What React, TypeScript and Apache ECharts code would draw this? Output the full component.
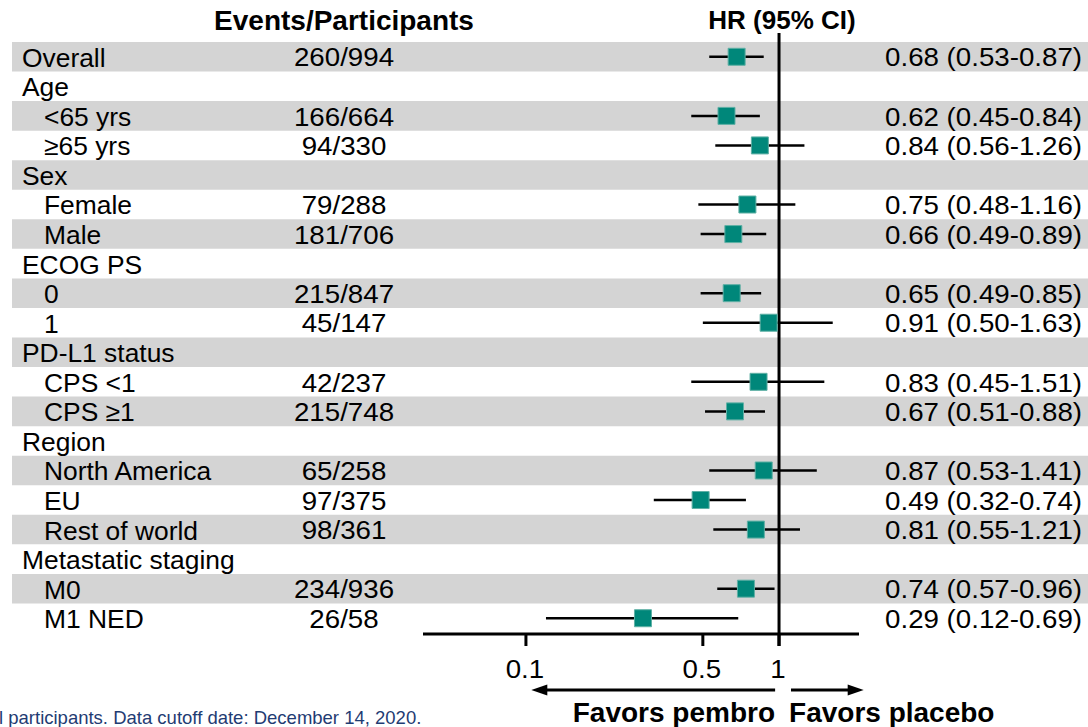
import React, { useEffect, useRef } from "react";
import * as echarts from "echarts";

const labels = [
  "Overall", "Age", "<65 yrs", "≥65 yrs", "Sex", "Female", "Male", "ECOG PS", "0", "1",
  "PD-L1 status", "CPS <1", "CPS ≥1", "Region", "North America", "EU", "Rest of world",
  "Metastatic staging", "M0", "M1 NED",
];
const levels = [0, 0, 1, 1, 0, 1, 1, 0, 1, 1, 0, 1, 1, 0, 1, 1, 1, 0, 1, 1];
const events = [
  "260/994", "", "166/664", "94/330", "", "79/288", "181/706", "", "215/847", "45/147",
  "", "42/237", "215/748", "", "65/258", "97/375", "98/361", "", "234/936", "26/58",
];
const hr: (number | null)[] = [
  0.68, null, 0.62, 0.84, null, 0.75, 0.66, null, 0.65, 0.91,
  null, 0.83, 0.67, null, 0.87, 0.49, 0.81, null, 0.74, 0.29,
];
const ciLow: (number | null)[] = [
  0.53, null, 0.45, 0.56, null, 0.48, 0.49, null, 0.49, 0.5,
  null, 0.45, 0.51, null, 0.53, 0.32, 0.55, null, 0.57, 0.12,
];
const ciHigh: (number | null)[] = [
  0.87, null, 0.84, 1.26, null, 1.16, 0.89, null, 0.85, 1.63,
  null, 1.51, 0.88, null, 1.41, 0.74, 1.21, null, 0.96, 0.69,
];
const tickValues = [0.1, 0.5, 1];
const tickLabels = ["0.1", "0.5", "1"];
const headers = ["Events/Participants", "HR (95% CI)"];
const favorsLabels = ["Favors pembro", "Favors placebo"];
const footnote = "l participants. Data cutoff date: December 14, 2020.";

const X_MIN = 0.0392;
const X_MAX = 2.07;
const FONT = '"Liberation Sans", Arial, Helvetica, sans-serif';
const TEAL = "#00877a";
const BAND = "#d4d4d4";
const FS = 26;
const NUM_SCALE = 1.065;

const fmt = (v: number) => v.toFixed(2);

export default function App() {
  const ref = useRef<HTMLDivElement>(null);
  useEffect(() => {
    const el = ref.current as HTMLDivElement;
    const chart = echarts.init(el, null, { renderer: "svg" });

    const rowData = labels.map((_, i) => [1, i + 0.5]);
    const ciData: number[][] = [];
    hr.forEach((v, i) => {
      if (v != null) ciData.push([ciLow[i] as number, i + 0.5, ciHigh[i] as number, v, i]);
    });
    const pointData: number[][] = [];
    hr.forEach((v, i) => {
      if (v != null) pointData.push([v, i + 0.5]);
    });

    const txt = (text: string, x: number, y: number, opts: any = {}) => ({
      type: "text",
      x,
      y,
      scaleX: opts.scaleX || 1,
      style: {
        text,
        fill: opts.fill || "#000",
        fontSize: opts.fontSize || FS,
        fontFamily: FONT,
        fontWeight: opts.bold ? "bold" : "normal",
        align: opts.align || "left",
        verticalAlign: "middle",
      },
    });

    const option: any = {
      animation: false,
      grid: { left: 423, right: 229, top: 42, bottom: 94, containLabel: false },
      xAxis: { type: "log", logBase: 10, min: X_MIN, max: X_MAX, show: false },
      yAxis: { type: "value", min: 0, max: labels.length, inverse: true, show: false },
      graphic: [
        txt(headers[0], 344, 20, { bold: true, align: "center", fontSize: 28 }),
        txt(headers[1], 782, 20, { bold: true, align: "center", fontSize: 26 }),
        txt(footnote, -1, 717, { fontSize: 18.5, fill: "#1f3c73" }),
      ],
      series: [
        {
          type: "custom",
          name: "bands",
          z: 0,
          silent: true,
          data: rowData,
          renderItem: (params: any, api: any) => {
            const i = params.dataIndex;
            if (i % 2 !== 0) return { type: "group", children: [] };
            const top = api.coord([1, i])[1];
            const bottom = api.coord([1, i + 1])[1];
            return {
              type: "rect",
              shape: { x: 12, y: top, width: 1076, height: bottom - top },
              style: { fill: BAND },
            };
          },
        },
        {
          type: "custom",
          name: "frame",
          z: 1,
          silent: true,
          data: [[1, 0]],
          renderItem: (params: any, api: any) => {
            const axisY = api.coord([1, labels.length])[1] + 1;
            const x0 = api.coord([X_MIN, 0])[0];
            const x1 = api.coord([X_MAX, 0])[0];
            const xOne = api.coord([1, 0])[0];
            const children: any[] = [];
            children.push({
              type: "line",
              shape: { x1: xOne, y1: 33, x2: xOne, y2: axisY + 12 },
              style: { stroke: "#000", lineWidth: 3 },
            });
            children.push({
              type: "line",
              shape: { x1: x0, y1: axisY, x2: x1, y2: axisY },
              style: { stroke: "#000", lineWidth: 3 },
            });
            tickValues.forEach((v, k) => {
              const x = api.coord([v, 0])[0];
              children.push({
                type: "line",
                shape: { x1: x, y1: axisY, x2: x, y2: axisY + 12 },
                style: { stroke: "#000", lineWidth: 3 },
              });
              children.push(txt(tickLabels[k], x - 1, axisY + 35, { align: "center", scaleX: NUM_SCALE }));
            });
            const ay = axisY + 56;
            const lStart = api.coord([0.965, 0])[0];
            const lTip = api.coord([0.105, 0])[0];
            const rStart = api.coord([1.115, 0])[0];
            const rTip = api.coord([2.16, 0])[0];
            const head = 16;
            const hh = 5.5;
            children.push({
              type: "line",
              shape: { x1: lStart, y1: ay, x2: lTip + head - 2, y2: ay },
              style: { stroke: "#000", lineWidth: 3 },
            });
            children.push({
              type: "polygon",
              shape: { points: [[lTip, ay], [lTip + head, ay - hh], [lTip + head, ay + hh]] },
              style: { fill: "#000" },
            });
            children.push({
              type: "line",
              shape: { x1: rStart, y1: ay, x2: rTip - head + 2, y2: ay },
              style: { stroke: "#000", lineWidth: 3 },
            });
            children.push({
              type: "polygon",
              shape: { points: [[rTip, ay], [rTip - head, ay - hh], [rTip - head, ay + hh]] },
              style: { fill: "#000" },
            });
            children.push(txt(favorsLabels[0], xOne - 4, axisY + 78, { bold: true, align: "right", fontSize: 28 }));
            children.push(txt(favorsLabels[1], xOne + 10, axisY + 78, { bold: true, align: "left", fontSize: 28 }));
            return { type: "group", children };
          },
        },
        {
          type: "custom",
          name: "ci",
          z: 2,
          silent: true,
          data: ciData,
          renderItem: (params: any, api: any) => {
            const p0 = api.coord([api.value(0), api.value(1)]);
            const p1 = api.coord([api.value(2), api.value(1)]);
            return {
              type: "line",
              shape: { x1: p0[0], y1: p0[1], x2: p1[0], y2: p1[1] },
              style: { stroke: "#000", lineWidth: 2.5 },
            };
          },
        },
        {
          type: "scatter",
          name: "HR",
          z: 3,
          symbol: "rect",
          symbolSize: 17,
          data: pointData,
          itemStyle: { color: TEAL, borderColor: "#5fb0a5", borderWidth: 1, opacity: 1 },
        },
        {
          type: "custom",
          name: "texts",
          z: 4,
          silent: true,
          data: rowData,
          renderItem: (params: any, api: any) => {
            const i = params.dataIndex;
            const y = api.coord([1, i + 0.5])[1] + 1;
            const children: any[] = [];
            children.push(txt(labels[i], levels[i] ? 44 : 22, y, { scaleX: 1.015 }));
            if (events[i]) children.push(txt(events[i], 344, y, { align: "center", scaleX: NUM_SCALE }));
            const v = hr[i];
            if (v != null) {
              children.push(
                txt(`${fmt(v)} (${fmt(ciLow[i] as number)}-${fmt(ciHigh[i] as number)})`, 1082, y, {
                  align: "right",
                  scaleX: NUM_SCALE,
                })
              );
            }
            return { type: "group", children };
          },
        },
      ],
    };
    chart.setOption(option);
    return () => chart.dispose();
  }, []);
  return (
    <div
      ref={ref}
      style={{ position: "absolute", left: 0, top: 0, width: 1088, height: 727, background: "#fff" }}
    />
  );
}
